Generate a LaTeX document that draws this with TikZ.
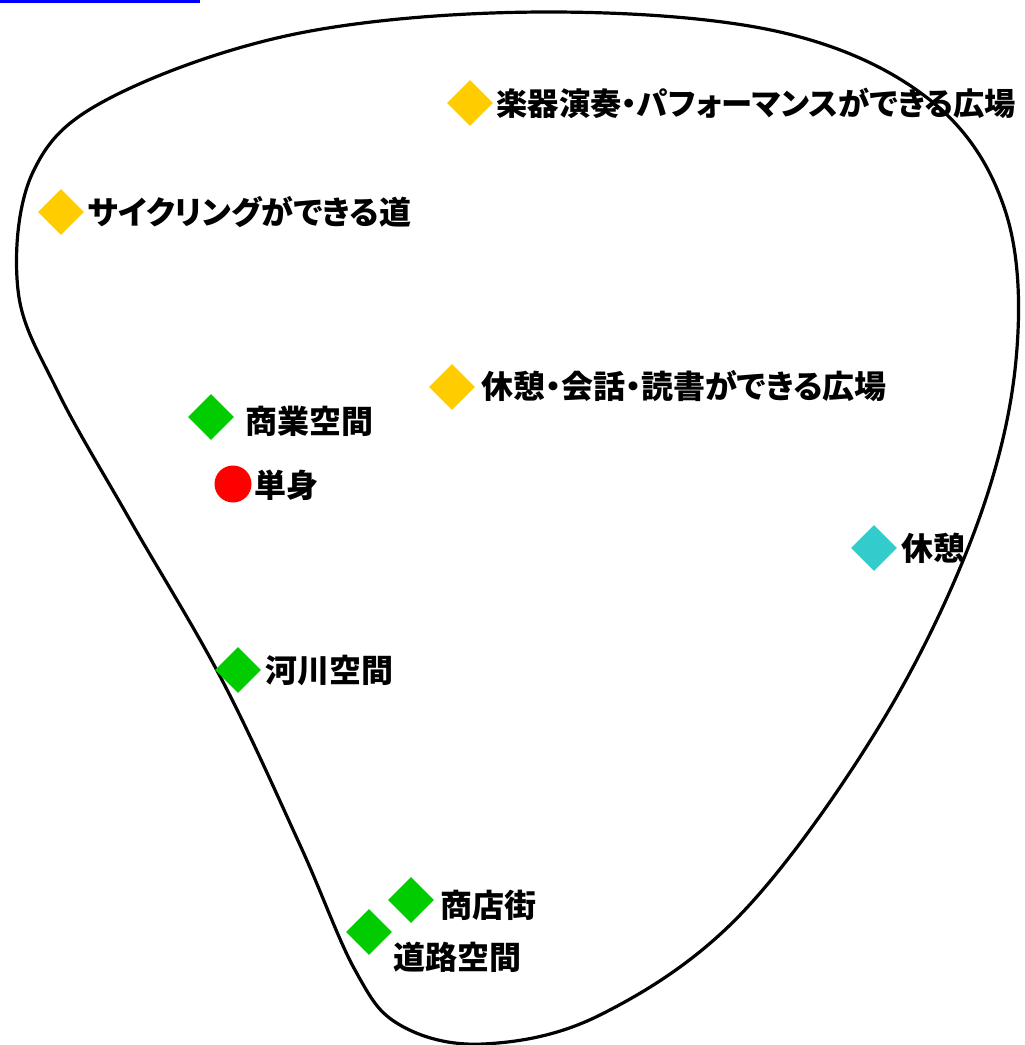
\documentclass[tikz,border=0pt]{standalone}
\usepackage{fontspec}
\usepackage{xcolor}
\usepackage{tikz}
\usetikzlibrary{positioning,shapes.geometric}
\newfontfamily\jpfont{Noto Sans CJK JP}[RawFeature=+palt]
\definecolor{cYellow}{HTML}{FFCC00}
\definecolor{cGreen}{HTML}{00CC00}
\definecolor{cCyan}{HTML}{33CCCC}
\definecolor{cRed}{HTML}{FF0000}

\begin{document}
\begin{tikzpicture}[x=1pt,y=-1pt,node distance=4pt,
  dia/.style={diamond,aspect=1,inner sep=0pt,minimum width=46pt,minimum height=46pt,draw=none},
  dot/.style={circle,inner sep=0pt,minimum size=37pt,fill=cRed},
  lbl/.style={inner sep=0pt,font=\jpfont\bfseries\fontsize{32}{34}\selectfont}]
  \useasboundingbox (0,0) rectangle (1025,1045);
  % outline
  \draw[line width=3.2pt] plot[smooth cycle,tension=0.6] coordinates {
    (545,12) (780,32) (930,100) (1005,210) (1016,360) (975,530)
    (880,725) (740,915) (600,1015) (483,1044) (400,1025) (355,970)
    (300,845) (222,680) (130,520) (57,390) (18,290) (33,172) (110,98) (300,33)};
  \fill[blue] (0,0) rectangle (200,3);
  % markers
  \node[dia,fill=cYellow] (music) at (470,103) {};
  \node[dia,fill=cYellow] (cycle) at (61,212) {};
  \node[dia,fill=cYellow] (rest) at (452,387) {};
  \node[dia,fill=cGreen] (shop) at (211,417) {};
  \node[dot] (single) at (233,484) {};
  \node[dia,fill=cCyan] (kyukei) at (874,548) {};
  \node[dia,fill=cGreen] (river) at (238,670) {};
  \node[dia,fill=cGreen] (street) at (411,900) {};
  \node[dia,fill=cGreen] (road) at (369,932) {};
  % labels
  \node[lbl,font=\jpfont\bfseries\fontsize{31.3}{34}\selectfont,right=3pt of music] (musicL) {楽器演奏・パフォーマンスができる広場};
  \node[lbl,right=3pt of cycle] (cycleL) {サイクリングができる道};
  \node[lbl,right=6pt of rest,yshift=1pt] (restL) {休憩・会話・読書ができる広場};
  \node[lbl,right=11pt of shop,yshift=-4pt] (shopL) {商業空間};
  \node[lbl,right=3pt of single,yshift=-1pt] (singleL) {単身};
  \node[lbl,right=4pt of kyukei] (kyukeiL) {休憩};
  \node[lbl,right=4pt of river] (riverL) {河川空間};
  \node[lbl,right=6pt of street,yshift=-5pt] (streetL) {商店街};
  \node[lbl,anchor=west] (roadL) at ([xshift=24pt,yshift=-25pt]road.center) {道路空間};
\end{tikzpicture}
\end{document}
